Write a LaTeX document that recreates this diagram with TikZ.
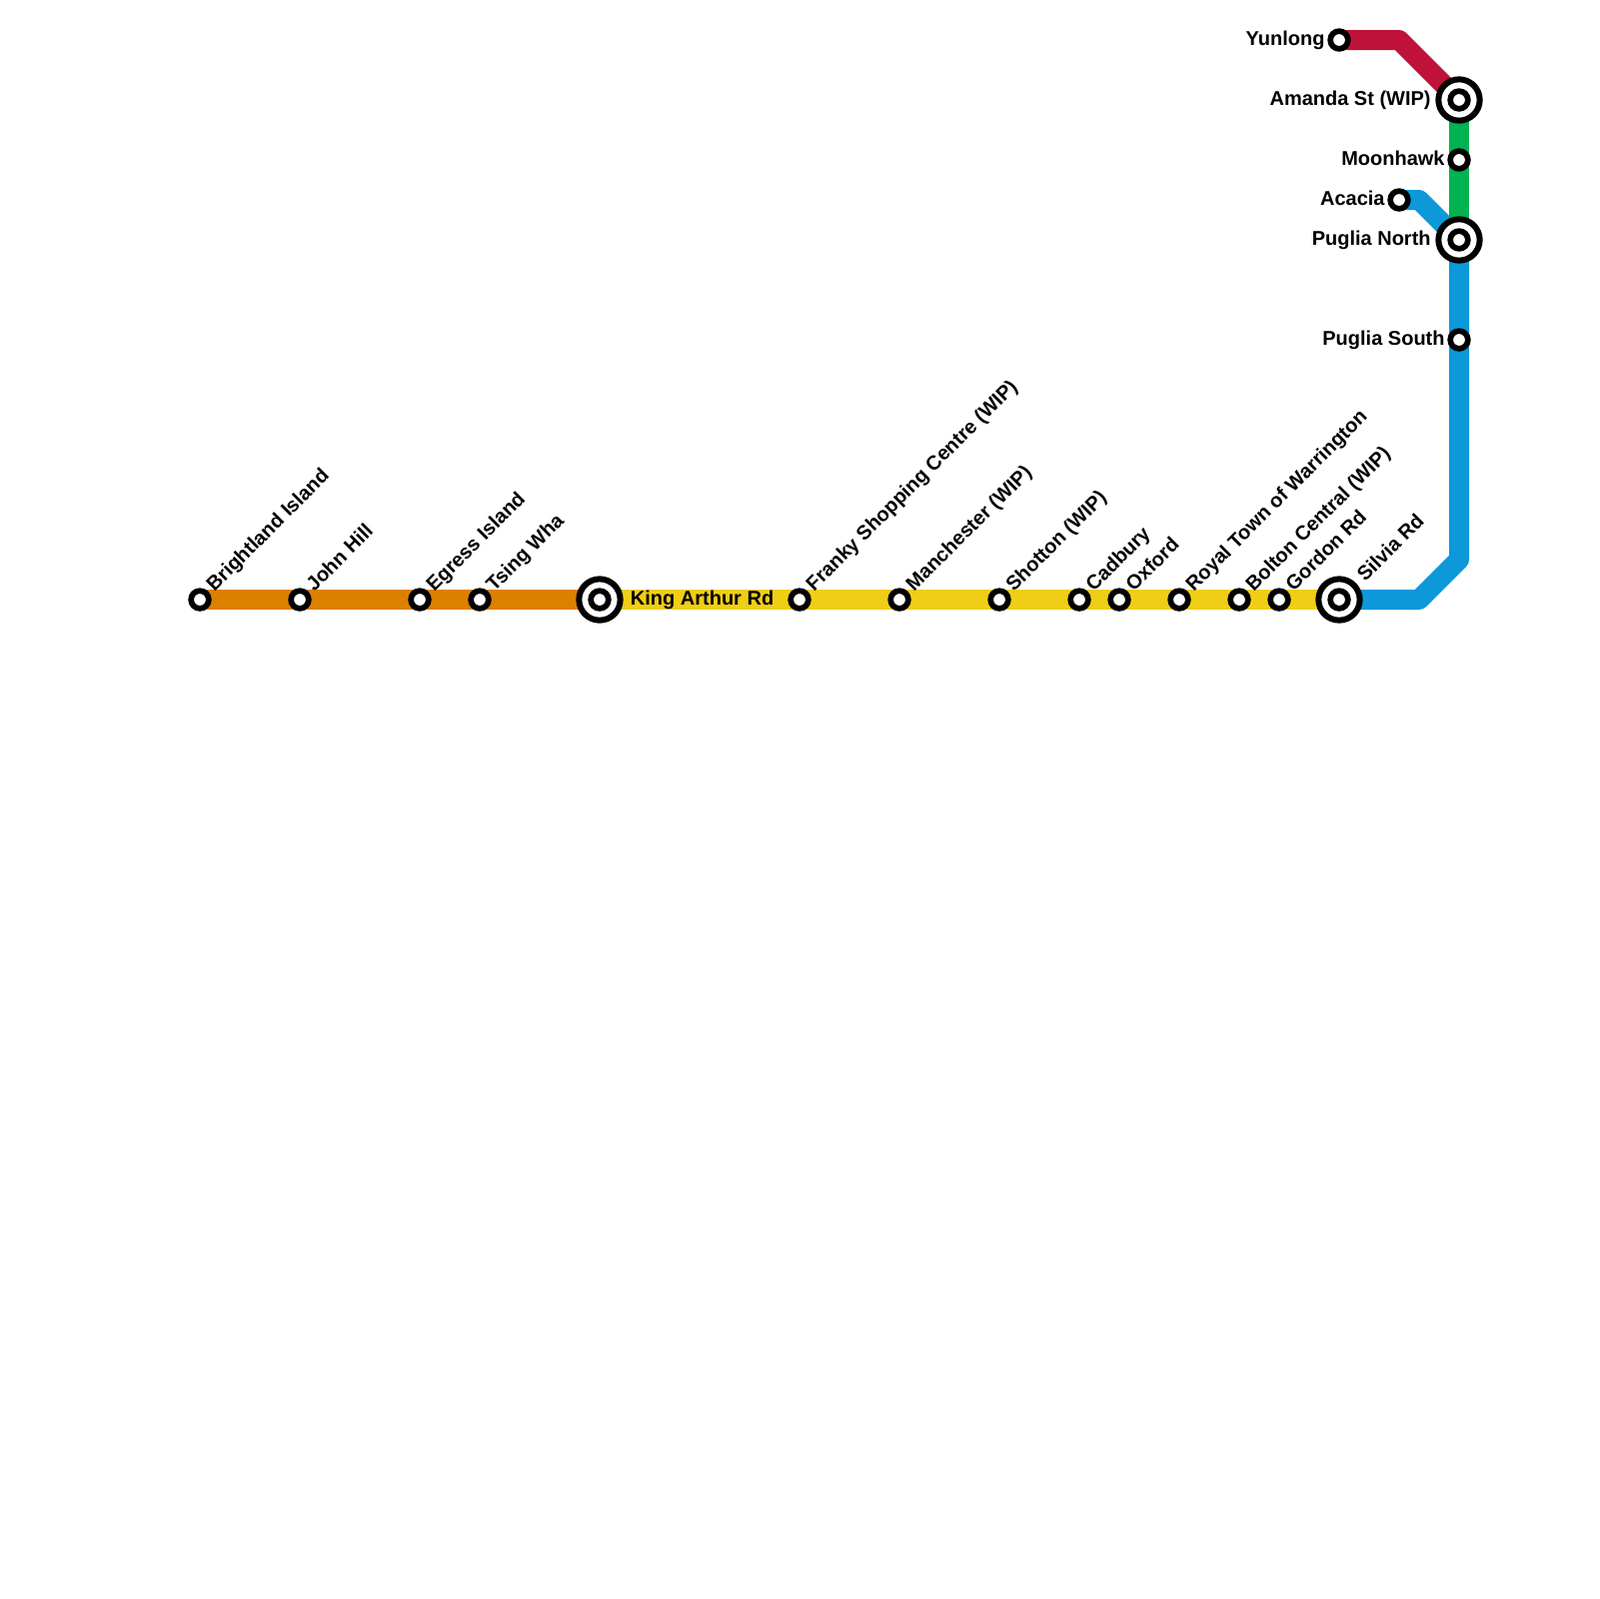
\documentclass[tikz,border=0pt]{standalone}
\usepackage{fontspec}
\setmainfont{Liberation Sans}
\usetikzlibrary{positioning,backgrounds}
\definecolor{lineorange}{HTML}{DD8000}
\definecolor{lineyellow}{HTML}{F0CE15}
\definecolor{lineblue}{HTML}{0C98D9}
\definecolor{linered}{HTML}{BE1238}
\definecolor{linegreen}{HTML}{00B251}

\tikzset{
  metro/.style={line width=2mm, line join=round},
  stop/.style={circle, draw=black, fill=white, line width=0.57mm, minimum size=1.77mm, inner sep=0pt},
  hub/.style={circle, draw=black, fill=white, line width=0.6mm, minimum size=4.13mm, inner sep=0pt,
    path picture={\draw[line width=0.57mm] (path picture bounding box.center) circle (0.885mm);}},
  stationname/.style={font=\fontsize{5.69pt}{6pt}\selectfont\bfseries, inner sep=0pt, text=black,
    text height=1.5mm, text depth=0.4mm},
  tilted/.style={stationname, xshift=1.42mm, yshift=0.69mm, rotate=45, anchor=base west}
}

\begin{document}
\begin{tikzpicture}[x=0.1mm, y=-0.1mm]
  \useasboundingbox (0,0) rectangle (1600,1600);

  % stations along the bottom
  \node[stop] (brightland) at (200,600) {};
  \node[stop] (johnhill) at (300,600) {};
  \node[stop] (egress) at (420,600) {};
  \node[stop] (tsingwha) at (480,600) {};
  \node[hub] (arthur) at (600,600) {};
  \node[stop] (franky) at (800,600) {};
  \node[stop] (manchester) at (900,600) {};
  \node[stop] (shotton) at (1000,600) {};
  \node[stop] (cadbury) at (1080,600) {};
  \node[stop] (oxford) at (1120,600) {};
  \node[stop] (warrington) at (1180,600) {};
  \node[stop] (bolton) at (1240,600) {};
  \node[stop] (gordon) at (1280,600) {};
  \node[hub] (silvia) at (1340,600) {};

  % stations up the right side
  \node[stop] (yunlong) at (1340,40) {};
  \node[hub] (amanda) at (1460,100) {};
  \node[stop] (moonhawk) at (1460,160) {};
  \node[stop] (acacia) at (1400,200) {};
  \node[hub] (puglianorth) at (1460,240) {};
  \node[stop] (pugliasouth) at (1460,340) {};

  \coordinate (bendred) at (1400,40);
  \coordinate (bendacacia) at (1420,200);
  \coordinate (bendlow) at (1460,560);
  \coordinate (bendbottom) at (1420,600);

  \begin{scope}[on background layer]
    \draw[metro, lineorange] (brightland.center) -- (arthur.center);
    \draw[metro, lineyellow] (arthur.center) -- (silvia.center);
    \draw[metro, lineblue] (silvia.center) -- (bendbottom) -- (bendlow) -- (puglianorth.center);
    \draw[metro, lineblue] (acacia.center) -- (bendacacia) -- (puglianorth.center);
    \draw[metro, linered] (yunlong.center) -- (bendred) -- (amanda.center);
    \draw[metro, linegreen] (amanda.center) -- (puglianorth.center);
  \end{scope}

  \node[tilted] (brightlandname) at (brightland) {Brightland Island};
  \node[tilted] (johnhillname) at (johnhill) {John Hill};
  \node[tilted] (egressname) at (egress) {Egress Island};
  \node[tilted] (tsingwhaname) at (tsingwha) {Tsing Wha};
  \node[stationname, right=0.66mm of arthur] (arthurname) {King Arthur Rd};
  \node[tilted] (frankyname) at (franky) {Franky Shopping Centre (WIP)};
  \node[tilted] (manchestername) at (manchester) {Manchester (WIP)};
  \node[tilted] (shottonname) at (shotton) {Shotton (WIP)};
  \node[tilted] (cadburyname) at (cadbury) {Cadbury};
  \node[tilted] (oxfordname) at (oxford) {Oxford};
  \node[tilted] (warringtonname) at (warrington) {Royal Town of Warrington};
  \node[tilted] (boltonname) at (bolton) {Bolton Central (WIP)};
  \node[tilted] (gordonname) at (gordon) {Gordon Rd};
  \node[xshift=1.15mm, yshift=1mm, tilted] (silvianame) at (silvia) {Silvia Rd};

  \node[stationname, left=0.2mm of yunlong] (yunlongname) {Yunlong};
  \node[stationname, left=0.4mm of amanda] (amandaname) {Amanda St (WIP)};
  \node[stationname, left=0.2mm of moonhawk] (moonhawkname) {Moonhawk};
  \node[stationname, left=0.2mm of acacia] (acacianame) {Acacia};
  \node[stationname, left=0.4mm of puglianorth] (puglianorthname) {Puglia North};
  \node[stationname, left=0.2mm of pugliasouth] (pugliasouthname) {Puglia South};
\end{tikzpicture}
\end{document}
